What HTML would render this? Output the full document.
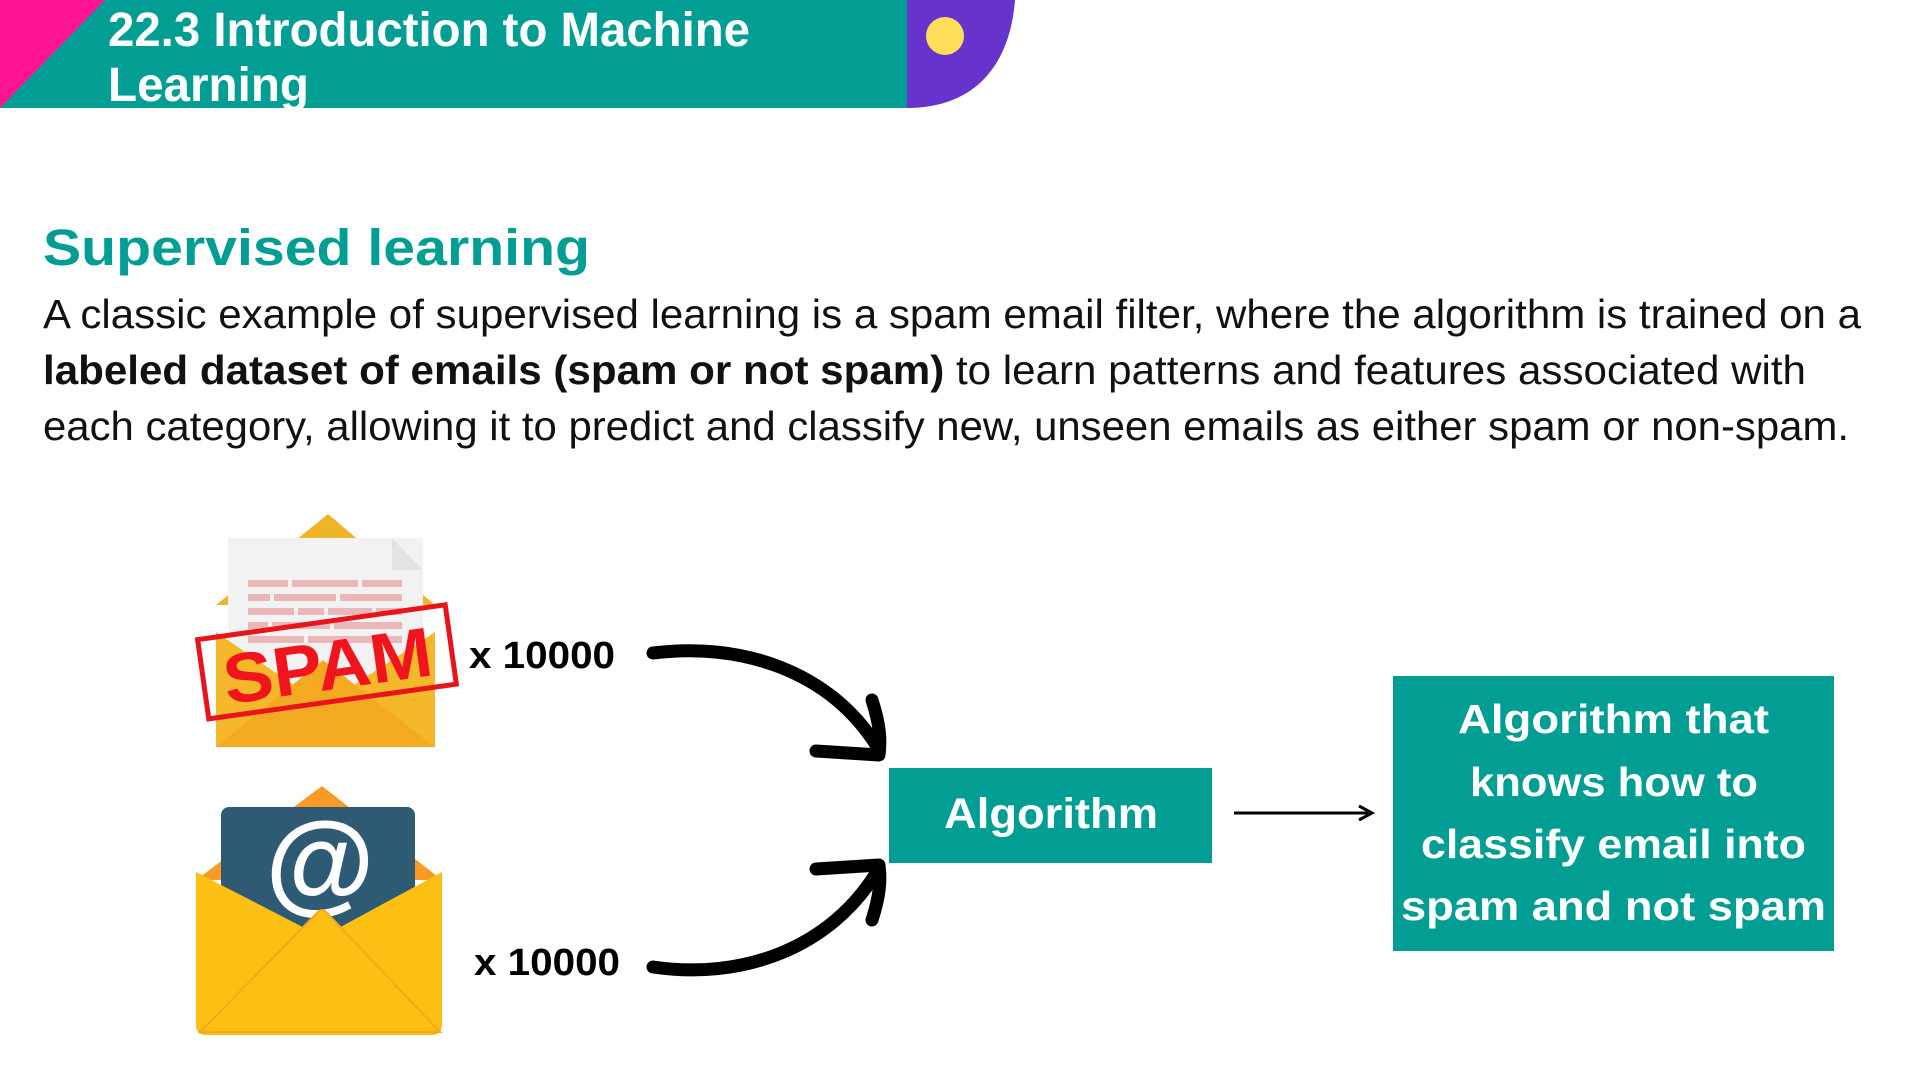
<!DOCTYPE html>
<html><head><meta charset="utf-8"><style>html,body{margin:0;padding:0;background:#fff;}svg{display:block}</style></head>
<body>
<svg width="1920" height="1080" viewBox="0 0 1920 1080" xmlns="http://www.w3.org/2000/svg" font-family="Liberation Sans, sans-serif">
<!-- header -->
<rect x="0" y="0" width="910" height="108" fill="#029e94"/>
<polygon points="0,0 105,0 0,108" fill="#ff1493"/>
<path d="M907,0 H1015 C1010,65 975,108 907,108 Z" fill="#6633cc"/>
<ellipse cx="945" cy="36" rx="19" ry="19" fill="#ffde59"/>
<text x="108" y="46" font-size="48" font-weight="bold" fill="#fff" textLength="642" lengthAdjust="spacingAndGlyphs">22.3 Introduction to Machine</text>
<text x="108" y="101" font-size="48" font-weight="bold" fill="#fff" textLength="201" lengthAdjust="spacingAndGlyphs">Learning</text>

<text x="43" y="265" font-size="51" font-weight="bold" fill="#029e94" textLength="547" lengthAdjust="spacingAndGlyphs">Supervised learning</text>
<g font-size="41" fill="#111">
<text x="43" y="328" textLength="1818" lengthAdjust="spacingAndGlyphs">A classic example of supervised learning is a spam email filter, where the algorithm is trained on a</text>
<text x="43" y="384" textLength="1763" lengthAdjust="spacingAndGlyphs"><tspan font-weight="bold">labeled dataset of emails (spam or not spam)</tspan> to learn patterns and features associated with</text>
<text x="43" y="440" textLength="1806" lengthAdjust="spacingAndGlyphs">each category, allowing it to predict and classify new, unseen emails as either spam or non-spam.</text>
</g>

<!-- spam envelope -->
<polygon points="216,605 328,514 435,605" fill="#f0b429"/>
<rect x="228" y="538" width="195" height="150" fill="#f2f2f2"/>
<polygon points="392,538 423,570 392,570" fill="#e3e3e3"/>
<g fill="#eab8b8">
<rect x="248" y="580" width="40" height="7"/><rect x="292" y="580" width="66" height="7"/><rect x="362" y="580" width="40" height="7"/>
<rect x="248" y="594" width="22" height="7"/><rect x="274" y="594" width="62" height="7"/><rect x="340" y="594" width="62" height="7"/>
<rect x="248" y="608" width="46" height="7"/><rect x="298" y="608" width="26" height="7"/><rect x="328" y="608" width="44" height="7"/><rect x="376" y="608" width="26" height="7"/>
<rect x="248" y="622" width="20" height="7"/><rect x="272" y="622" width="58" height="7"/><rect x="334" y="622" width="68" height="7"/>
<rect x="248" y="636" width="56" height="7"/><rect x="308" y="636" width="94" height="7"/>
</g>
<polygon points="216,632 323,705 435,632 435,747 216,747" fill="#f5b82a"/>
<polygon points="216,747 323,660 435,747" fill="#f3aa22"/>
<g transform="rotate(-8 326 662)">
<rect x="202" y="622" width="250" height="80" fill="none" stroke="#e8141c" stroke-width="5"/>
<text x="327" y="690" font-size="70" font-weight="bold" fill="#f0141c" text-anchor="middle" textLength="210" lengthAdjust="spacingAndGlyphs">SPAM</text>
</g>

<!-- normal envelope -->
<polygon points="196,880 322,786 442,880" fill="#f89a25"/>
<rect x="221" y="807" width="194" height="140" rx="8" fill="#2f5a74"/>
<text x="320" y="900" font-size="112" font-weight="bold" fill="#fff" text-anchor="middle">@</text>
<path d="M196,872 L322,937 L442,872 V1025 Q442,1035 432,1035 H206 Q196,1035 196,1025 Z" fill="#fcbf13"/>
<path d="M200,1032 L318,912 Q322,908 326,912 L440,1032 Z" fill="#fcc015" stroke="#f3a820" stroke-width="2"/>

<text x="469" y="668" font-size="38" font-weight="bold" fill="#000" textLength="146" lengthAdjust="spacingAndGlyphs">x 10000</text>
<text x="474" y="975" font-size="38" font-weight="bold" fill="#000" textLength="146" lengthAdjust="spacingAndGlyphs">x 10000</text>

<!-- curved arrows -->
<g fill="none" stroke="#000" stroke-width="13" stroke-linecap="round" stroke-linejoin="round">
<path d="M653,653 C740,642 830,670 878,748"/>
<path d="M872,700 C880,725 881,740 879,755 L816,751"/>
<path d="M653,967 C740,980 830,950 878,870"/>
<path d="M872,920 C880,895 881,880 879,865 L816,869"/>
</g>

<rect x="889" y="768" width="323" height="95" fill="#029e94"/>
<text x="1051" y="828" font-size="43" font-weight="bold" fill="#fff" text-anchor="middle" textLength="214" lengthAdjust="spacingAndGlyphs">Algorithm</text>

<line x1="1234" y1="813" x2="1368" y2="813" stroke="#000" stroke-width="3"/>
<polyline points="1359,806 1372,813 1359,820" fill="none" stroke="#000" stroke-width="3"/>

<rect x="1393" y="676" width="441" height="275" fill="#029e94"/>
<g font-size="41" font-weight="bold" fill="#fff" lengthAdjust="spacingAndGlyphs">
<text x="1458" y="733" textLength="311" lengthAdjust="spacingAndGlyphs">Algorithm that</text>
<text x="1470" y="796" textLength="288" lengthAdjust="spacingAndGlyphs">knows how to</text>
<text x="1421" y="858" textLength="385" lengthAdjust="spacingAndGlyphs">classify email into</text>
<text x="1401" y="920" textLength="425" lengthAdjust="spacingAndGlyphs">spam and not spam</text>
</g>
</svg>
</body></html>
